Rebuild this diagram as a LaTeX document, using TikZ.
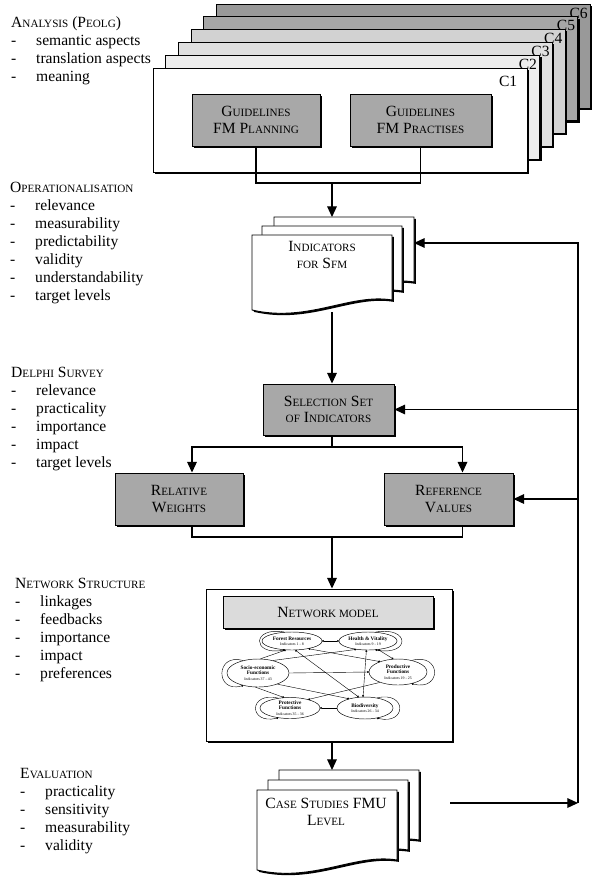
\documentclass[tikz,border=0pt]{standalone}
\usepackage{fontspec}
\setmainfont{Liberation Serif}
\usetikzlibrary{arrows.meta,calc,shadows,shapes.geometric}
\definecolor{boxgray}{gray}{0.66}
\definecolor{titlegray}{gray}{0.86}
\newcommand\smcp[1]{{\fontsize{9.5}{15.3}\selectfont #1}}
\newcommand\itm{\makebox[0.75cm][l]{-}}
\newcommand\indic[1]{\\{\fontsize{3.3}{4}\selectfont\mdseries Indicators #1}}
\tikzset{
  dshadow/.style={
    drop shadow={shadow xshift=1.6pt,shadow yshift=-1.6pt,fill=black,opacity=1}
  },
  card/.style={
    draw=black,
    line width=0.8pt,
    minimum width=11.22cm,
    minimum height=3.12cm,
    inner sep=0pt,
    dshadow
  },
  cardlabel/.style={
    inner sep=0pt,
    font=\fontsize{13.3}{15}\selectfont
  },
  box/.style={
    draw=black,
    line width=0.8pt,
    fill=boxgray,
    align=center,
    inner sep=0pt,
    minimum height=1.56cm,
    font=\fontsize{13.3}{14.2}\selectfont,
    dshadow
  },
  docpage/.style={
    draw=black,
    line width=0.8pt,
    fill=white,
    dshadow
  },
  doctext/.style={
    align=center,
    inner sep=0pt,
    font=\fontsize{13.3}{14.5}\selectfont
  },
  listing/.style={
    anchor=north west,
    align=left,
    inner sep=0pt,
    font=\fontsize{13.3}{15.37}\selectfont
  },
  wire/.style={
    line width=1pt
  },
  arrow/.style={
    -{Triangle[length=3.2mm,width=2.9mm]},
    line width=1pt
  },
  netnode/.style={
    ellipse,
    draw,
    line width=0.4pt,
    fill=white,
    inner sep=0pt,
    align=center,
    font=\fontsize{4.5}{4.6}\selectfont\bfseries
  },
  netline/.style={
    line width=0.35pt,
    -{Circle[length=1.6pt]}
  },
  netboth/.style={
    line width=0.35pt,
    {Circle[length=1.6pt]}-{Circle[length=1.6pt]}
  }
}
\begin{document}
\begin{tikzpicture}[x=0.03cm,y=-0.03cm]
\useasboundingbox (0,0) rectangle (599,881);
\foreach \k/\g/\lx/\ly in {6/80/-3/4,5/70/-3/4,4/35/-3/4,3/25/-3/4,2/14/-3/4,1/0/-10/8}{
  \node[card,fill=gray!\g] (card\k) at ({340+(\k-1)*12.7},{120-(\k-1)*12.8}) {};
  \node[cardlabel,anchor=north east] (lab\k) at ($(card\k.north east)+(\lx,\ly)$) {C\k};
}
\node[box,minimum width=3.84cm] (gfp) at (256,120) {G\smcp{UIDELINES}\\FM P\smcp{LANNING}};
\node[box,minimum width=4.23cm] (gfr) at (420.5,120) {G\smcp{UIDELINES}\\FM P\smcp{RACTISES}};

\node[listing] (analysis) at (11,16) {A\smcp{NALYSIS} (P\smcp{EOLG})\\\itm semantic aspects\\\itm translation aspects\\\itm meaning};
\node[listing] (oper) at (10,182) {O\smcp{PERATIONALISATION}\\\itm relevance\\\itm measurability\\\itm predictability\\\itm validity\\\itm understandability\\\itm target levels};
\node[listing] (delphi) at (11,367) {D\smcp{ELPHI} S\smcp{URVEY}\\\itm relevance\\\itm practicality\\\itm importance\\\itm impact\\\itm target levels};
\node[listing] (netstruct) at (15,578) {N\smcp{ETWORK} S\smcp{TRUCTURE}\\\itm linkages\\\itm feedbacks\\\itm importance\\\itm impact\\\itm preferences};
\node[listing] (evaluation) at (20,768) {E\smcp{VALUATION}\\\itm practicality\\\itm sensitivity\\\itm measurability\\\itm validity};

\foreach \dx/\dy in {22/-18,10/-9,0/0}
  \path[docpage] ({252+\dx},{235+\dy}) -- ++(140,0) -- ++(0,65)
    .. controls +(-42,-7) and +(56,13) .. ++(-140,10) -- cycle;
\node[doctext] (ind) at (322,255) {I\smcp{NDICATORS}\\\smcp{FOR} S\smcp{FM}};
\coordinate (indtop) at (332,217);
\coordinate (indright) at (414,243);
\coordinate (indbot) at (332,312);

\node[box,minimum width=3.93cm,minimum height=1.53cm] (sel) at (328.5,409.5) {S\smcp{ELECTION} S\smcp{ET}\\\smcp{OF} I\smcp{NDICATORS}};
\node[box,minimum width=3.84cm] (rw) at (179,499) {R\smcp{ELATIVE}\\W\smcp{EIGHTS}};
\node[box,minimum width=3.87cm] (rv) at (448.5,499) {R\smcp{EFERENCE}\\V\smcp{ALUES}};

\node[draw,line width=0.8pt,fill=white,minimum width=7.38cm,minimum height=4.56cm,dshadow] (net) at (329,665) {};
\node[draw,line width=0.6pt,fill=titlegray,minimum width=6.3cm,minimum height=0.96cm,dshadow,font=\fontsize{13.3}{15}\selectfont] (nettitle) at (328,612) {N\smcp{ETWORK MODEL}};

\node[netnode,minimum width=1.8cm,minimum height=0.54cm] (fr) at (292,641) {Forest Resources\indic{1 - 8}};
\node[netnode,minimum width=1.74cm,minimum height=0.54cm] (hv) at (368,641) {Health \& Vitality\indic{9 - 19}};
\node[netnode,minimum width=1.86cm,minimum height=0.84cm] (se) at (258,673) {Socio-economic\\Functions\indic{37 - 43}};
\node[netnode,minimum width=1.74cm,minimum height=0.78cm] (pf) at (398,672) {Productive\\Functions\indic{19 - 25}};
\node[netnode,minimum width=1.8cm,minimum height=0.63cm] (pt) at (290,708) {Protective\\Functions\indic{35 - 36}};
\node[netnode,minimum width=1.68cm,minimum height=0.66cm] (bd) at (365,708) {Biodiversity\indic{26 - 34}};
\draw[netline] (fr.130) .. controls +(-33,-6) and +(-33,6) .. (fr.230);
\draw[netline] (hv.50) .. controls +(35,-6) and +(35,6) .. (hv.-50);
\draw[netline] (se.140) .. controls +(-28,-8) and +(-28,8) .. (se.220);
\draw[netline] (pf.40) .. controls +(30,-8) and +(30,8) .. (pf.-40);
\draw[netline] (pt.140) .. controls +(-30,-7) and +(-30,7) .. (pt.220);
\draw[netline] (bd.40) .. controls +(30,-7) and +(30,7) .. (bd.-40);
\draw[netboth] (fr.east) -- (hv.west);
\draw[netline] (se.80) -- (fr.235);
\draw[netline] (se.40) -- (hv.215);
\draw[netline] (se.east) -- (pf.west);
\draw[netline] (se.-30) -- (bd.150);
\draw[netline] (se.-100) -- (pt.120);
\draw[netboth] (fr.-25) -- (pf.150);
\draw[netboth] (fr.-70) -- (bd.120);
\draw[netboth] (hv.-40) -- (pf.110);
\draw[netboth] (hv.-100) -- (bd.100);
\draw[netline] (pf.-150) -- (pt.25);
\draw[netline] (bd.west) -- (pt.east);

\foreach \dx/\dy in {22/-20,11/-10,0/0}
  \path[docpage] ({257+\dx},{790+\dy}) -- ++(140,0) -- ++(0,70)
    .. controls +(-42,-7) and +(56,13) .. ++(-140,10) -- cycle;
\node[doctext] (case) at (326,812) {C\smcp{ASE} S\smcp{TUDIES} FMU\\L\smcp{EVEL}};
\coordinate (casetop) at (332,770);

\coordinate (j1) at (332,183);
\coordinate (j2) at (332,447);
\coordinate (j3) at (332,537);
\coordinate (fbs) at (450,803);
\coordinate (fb) at (578,803);
\draw[wire] (gfp.south) |- (j1) -| (gfr.south);
\draw[arrow] (j1) -- (indtop);
\draw[arrow] (indbot) -- (indbot |- sel.north);
\draw[wire] (j2 |- sel.south) -- (j2);
\draw[arrow] (j2) -| ($(rw.north)+(13,0)$);
\draw[arrow] (j2) -| ($(rv.north)+(14,0)$);
\draw[wire] ($(rw.south)+(13,0)$) |- (j3) -| ($(rv.south)+(14,0)$);
\draw[arrow] (j3) -- (j3 |- net.north);
\draw[arrow] (net.south -| j3) -- (casetop);
\draw[arrow] (fbs) -- (fb);
\draw[arrow] (fb) |- (indright);
\draw[arrow] (fb |- sel.east) -- (sel.east);
\draw[arrow] (fb |- rv.east) -- (rv.east);
\end{tikzpicture}
\end{document}
